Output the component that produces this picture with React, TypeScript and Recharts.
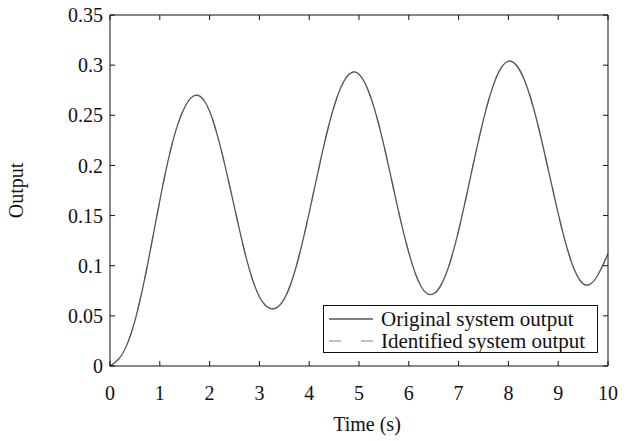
import { LineChart, Line, XAxis, YAxis, Legend } from "recharts";

// time samples (s)
const times = [
  0, 0.25, 0.5, 0.75, 1, 1.25, 1.5, 1.75, 2, 2.25, 2.5, 2.75, 3, 3.25, 3.5,
  3.75, 4, 4.25, 4.5, 4.75, 5, 5.25, 5.5, 5.75, 6, 6.25, 6.5, 6.75, 7, 7.25,
  7.5, 7.75, 8, 8.25, 8.5, 8.75, 9, 9.25, 9.5, 9.75, 10,
];

// original system output
const original = [
  0, 0.012, 0.045, 0.1, 0.165, 0.222, 0.258, 0.27, 0.254, 0.212, 0.158, 0.105,
  0.069, 0.057, 0.067, 0.101, 0.153, 0.21, 0.259, 0.288, 0.291, 0.266, 0.22,
  0.164, 0.113, 0.079, 0.072, 0.092, 0.135, 0.191, 0.246, 0.287, 0.304, 0.293,
  0.258, 0.207, 0.152, 0.106, 0.082, 0.087, 0.112,
];

// identified model output (lies on top of the original)
const identified = [
  0, 0.012, 0.045, 0.1, 0.165, 0.222, 0.258, 0.27, 0.254, 0.212, 0.158, 0.105,
  0.069, 0.057, 0.067, 0.101, 0.153, 0.21, 0.259, 0.288, 0.291, 0.266, 0.22,
  0.164, 0.113, 0.079, 0.072, 0.092, 0.135, 0.191, 0.246, 0.287, 0.304, 0.293,
  0.258, 0.207, 0.152, 0.106, 0.082, 0.087, 0.112,
];

const xTicks = [0, 1, 2, 3, 4, 5, 6, 7, 8, 9, 10];
const yTicks = [0, 0.05, 0.1, 0.15, 0.2, 0.25, 0.3, 0.35];

const data = times.map((t, i) => ({
  t,
  original: original[i],
  identified: identified[i],
}));

const FONT = "'Liberation Serif', 'Times New Roman', serif";
const tickStyle = { fontFamily: FONT, fontSize: 20, fill: "#111" };
const AXIS = "#111";
const noLabel = () => <g />;

const LegendBox = () => (
  <div
    style={{
      border: "1px solid #111",
      background: "#fff",
      width: 275,
      height: 48,
      boxSizing: "border-box",
      fontFamily: FONT,
      fontSize: 21,
      lineHeight: "21px",
      color: "#111",
      padding: "2px 0 0 4px",
    }}
  >
    <div style={{ display: "flex", alignItems: "center", height: 22 }}>
      <svg width={53} height={10}>
        <line x1={1} y1={5} x2={45} y2={5} stroke="#555" strokeWidth={1.3} />
      </svg>
      <span>Original system output</span>
    </div>
    <div style={{ display: "flex", alignItems: "center", height: 22 }}>
      <svg width={53} height={10}>
        <line
          x1={1}
          y1={5}
          x2={45}
          y2={5}
          stroke="#aaa"
          strokeWidth={1.3}
          strokeDasharray="12 20"
        />
      </svg>
      <span>Identified system output</span>
    </div>
  </div>
);

export default function App() {
  return (
    <div style={{ position: "absolute", left: 0, top: 0, background: "#fff" }}>
      <LineChart
        width={640}
        height={441}
        data={data}
        margin={{ top: 15, right: 32, bottom: 0, left: 0 }}
      >
        {/* labelled axes */}
        <XAxis
          dataKey="t"
          type="number"
          domain={[0, 10]}
          ticks={xTicks}
          interval={0}
          height={75}
          stroke={AXIS}
          tickLine={false}
          tickSize={0}
          tickMargin={20}
          tick={tickStyle}
          label={{
            value: "Time (s)",
            position: "insideBottom",
            offset: 10,
            dx: 8,
            style: { fontFamily: FONT, fontSize: 20, fill: "#111" },
          }}
        />
        <YAxis
          type="number"
          domain={[0, 0.35]}
          ticks={yTicks}
          interval={0}
          width={110}
          stroke={AXIS}
          tickLine={false}
          tickSize={0}
          tickMargin={7}
          tick={tickStyle}
          label={{
            value: "Output",
            angle: -90,
            position: "insideLeft",
            offset: 16,
            style: {
              fontFamily: FONT,
              fontSize: 20,
              fill: "#111",
              textAnchor: "middle",
            },
          }}
        />
        {/* mirrored axes: inward ticks and the frame */}
        <XAxis
          xAxisId="bottomIn"
          dataKey="t"
          type="number"
          orientation="bottom"
          mirror
          domain={[0, 10]}
          allowDataOverflow
          ticks={xTicks}
          interval={0}
          height={20}
          stroke={AXIS}
          axisLine={false}
          tickSize={5}
          tick={noLabel}
        />
        <XAxis
          xAxisId="top"
          dataKey="t"
          type="number"
          orientation="top"
          mirror
          domain={[0, 10]}
          allowDataOverflow
          ticks={xTicks}
          interval={0}
          height={20}
          stroke={AXIS}
          tickSize={5}
          tick={noLabel}
        />
        <YAxis
          yAxisId="leftIn"
          type="number"
          orientation="left"
          mirror
          domain={[0, 0.35]}
          allowDataOverflow
          ticks={yTicks}
          interval={0}
          width={20}
          stroke={AXIS}
          axisLine={false}
          tickSize={5}
          tick={noLabel}
        />
        <YAxis
          yAxisId="right"
          type="number"
          orientation="right"
          mirror
          domain={[0, 0.35]}
          allowDataOverflow
          ticks={yTicks}
          interval={0}
          width={20}
          stroke={AXIS}
          tickSize={5}
          tick={noLabel}
        />
        <Legend
          layout="horizontal"
          verticalAlign="middle"
          align="center"
          content={<LegendBox />}
          wrapperStyle={{ position: "absolute", left: 323, top: 305, width: 276 }}
        />
        <Line
          type="natural"
          dataKey="identified"
          name="Identified system output"
          stroke="#aaa"
          strokeWidth={1.3}
          strokeDasharray="12 20"
          dot={false}
          isAnimationActive={false}
        />
        <Line
          type="natural"
          dataKey="original"
          name="Original system output"
          stroke="#555"
          strokeWidth={1.3}
          dot={false}
          isAnimationActive={false}
        />
      </LineChart>
    </div>
  );
}
